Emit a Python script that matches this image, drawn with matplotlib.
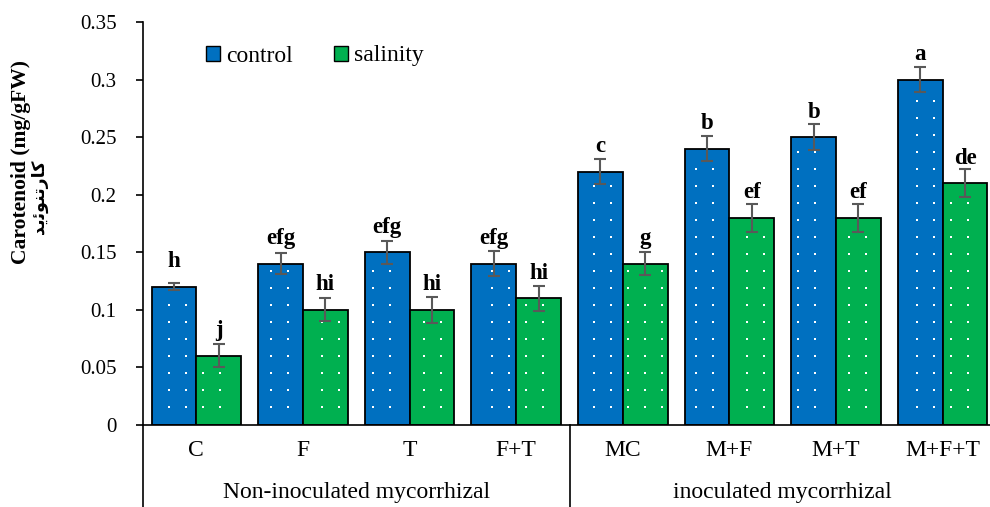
import numpy as np
import matplotlib.pyplot as plt
from matplotlib.patches import Patch
from matplotlib.transforms import blended_transform_factory

treatments = ["C", "F", "T", "F+T", "MC", "M+F", "M+T", "M+F+T"]
groups = ["Non-inoculated mycorrhizal", "inoculated mycorrhizal"]
control = [0.12, 0.14, 0.15, 0.14, 0.22, 0.24, 0.25, 0.30]
salinity = [0.06, 0.10, 0.10, 0.11, 0.14, 0.18, 0.18, 0.21]
control_err = [0.003, 0.009, 0.010, 0.011, 0.011, 0.011, 0.011, 0.011]
salinity_err = [0.010, 0.010, 0.011, 0.011, 0.010, 0.012, 0.012, 0.012]
control_letters = ["h", "efg", "efg", "efg", "c", "b", "b", "a"]
salinity_letters = ["j", "hi", "hi", "hi", "g", "ef", "ef", "de"]
yticks = [0, 0.05, 0.1, 0.15, 0.2, 0.25, 0.3, 0.35]
ylabel = "Carotenoid (mg/gFW)"
# "کارتنوئید" written in presentation forms, visual order (matplotlib does no Arabic shaping)
ylabel_fa = "\uFEAA\uFBFE\uFE8B\uFEEE\uFEE8\uFE97\uFEAD\uFE8E\uFB90"

plt.rcParams['font.family'] = ['Liberation Serif', 'DejaVu Sans']

blue = '#0070C0'
green = '#00B050'

fig = plt.figure(figsize=(9.9, 5.07), dpi=100)
ax = fig.add_axes([143 / 990, 82 / 507, 853 / 990, 403 / 507])

x = np.arange(len(treatments))
w = 0.42
bars_c = ax.bar(x - w / 2, control, w, color=blue, edgecolor='black', linewidth=1.3, zorder=2)
bars_s = ax.bar(x + w / 2, salinity, w, color=green, edgecolor='black', linewidth=1.3, zorder=2)

ax.set_xlim(-0.5, 7.5)
ax.set_ylim(0, 0.35)

# dotted fill pattern: white dots on a fixed grid, kept inside each bar
dx, dy = 0.1595, 0.01476
gx = -0.256 + dx * np.arange(-2, 60)
gy = 0.0156 + dy * np.arange(0, 30)
px, py = [], []
for b in list(bars_c) + list(bars_s):
    x0, x1, h = b.get_x(), b.get_x() + b.get_width(), b.get_height()
    for xx in gx[(gx > x0 + 0.04) & (gx < x1 - 0.04)]:
        for yy in gy[gy < h - 0.004]:
            px.append(xx)
            py.append(yy)
ax.scatter(px, py, s=3.5, marker='s', color='white', linewidths=0, zorder=3)

ax.errorbar(x - w / 2, control, yerr=control_err, fmt='none', ecolor='#595959',
            elinewidth=1.5, capsize=4.3, capthick=1.5, zorder=4)
ax.errorbar(x + w / 2, salinity, yerr=salinity_err, fmt='none', ecolor='#595959',
            elinewidth=1.5, capsize=4.3, capthick=1.5, zorder=4)

for xi, v, t in zip(x - w / 2, control, control_letters):
    ax.annotate(t, (xi, v), xytext=(0, 14), textcoords='offset points', ha='center',
                va='baseline', fontsize=16.5, fontweight='bold')
for xi, v, t in zip(x + w / 2, salinity, salinity_letters):
    ax.annotate(t, (xi, v), xytext=(0, 14), textcoords='offset points', ha='center',
                va='baseline', fontsize=16.5, fontweight='bold')

ax.set_yticks(yticks)
ax.set_yticklabels([f"{t:g}" for t in yticks], fontsize=15)
ax.tick_params(axis='y', direction='out', length=5, width=1.2, pad=14)
ax.set_xticks([])
for s in ['top', 'right']:
    ax.spines[s].set_visible(False)
ax.spines['left'].set_linewidth(1.2)
ax.spines['bottom'].set_linewidth(1.2)

trans = blended_transform_factory(ax.transData, ax.transAxes)
for xi, t in zip(x, treatments):
    ax.text(xi, -0.0645, t, transform=trans, ha='center', va='center', fontsize=17)
for xi, g in zip([1.5, 5.5], groups):
    ax.text(xi, -0.168, g, transform=trans, ha='center', va='center', fontsize=17)
for xs in [-0.5, 3.5, 7.5]:
    ax.plot([xs, xs], [0, -0.21], transform=trans, color='black', lw=1.2, clip_on=False)

handles = [Patch(facecolor=blue, edgecolor='black', label='control'),
           Patch(facecolor=green, edgecolor='black', label='salinity')]
ax.legend(handles=handles, loc='center left', bbox_to_anchor=((206 - 143) / 853, (425 - 56) / 403),
          ncol=2, frameon=False, fontsize=17, handlelength=0.6, handleheight=0.6,
          handletextpad=0.25, columnspacing=1.75, borderpad=0, borderaxespad=0)

fig.text(21 / 990, 1 - 162 / 507, ylabel, rotation=90, ha='center', va='center',
         fontsize=15.5, fontweight='bold')
fig.text(39 / 990, 1 - 197 / 507, ylabel_fa, rotation=90, ha='center', va='center',
         fontsize=12.5, fontweight='bold', family=['DejaVu Sans'])

fig.savefig('out.png', dpi=100)
